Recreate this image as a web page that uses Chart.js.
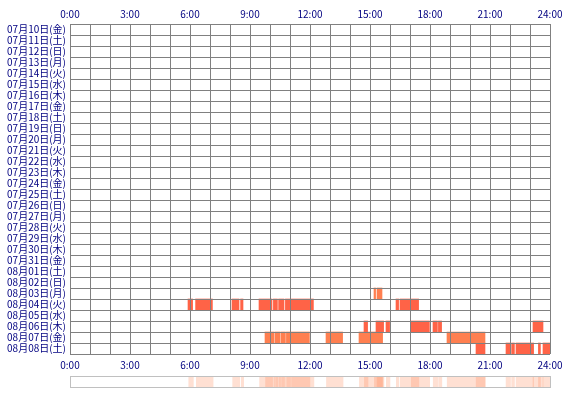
<!DOCTYPE html>
<html>
<head>
<meta charset="utf-8">
<script src="https://cdn.jsdelivr.net/npm/chart.js@4/dist/chart.umd.min.js"></script>
<style>
  body { margin: 0; background: #fff; }
  #main_wrap { position: absolute; left: 0; top: 0; width: 570px; height: 372px; }
  #strip_wrap { position: absolute; left: 70px; top: 376px; width: 479px; height: 10px; border: 1px solid #c0c0c0; }
</style>
</head>
<body>
<div id="main_wrap"><canvas id="ctx_main"></canvas></div>
<div id="strip_wrap"><canvas id="ctx_strip"></canvas></div>
<script>
// row labels, top to bottom
var days = [
    '07月10日(金)', '07月11日(土)', '07月12日(日)', '07月13日(月)', '07月14日(火)',
    '07月15日(水)', '07月16日(木)', '07月17日(金)', '07月18日(土)', '07月19日(日)',
    '07月20日(月)', '07月21日(火)', '07月22日(水)', '07月23日(木)', '07月24日(金)',
    '07月25日(土)', '07月26日(日)', '07月27日(月)', '07月28日(火)', '07月29日(水)',
    '07月30日(木)', '07月31日(金)', '08月01日(土)', '08月02日(日)', '08月03日(月)',
    '08月04日(火)', '08月05日(水)', '08月06日(木)', '08月07日(金)', '08月08日(土)'
];

// active periods per day, in hours [start, end]
var act_0803 = [[15.2, 15.28], [15.35, 15.6]];
var act_0804 = [[5.9, 6.13], [6.28, 7.12], [8.1, 8.45], [8.53, 8.65], [9.45, 10.1],
                [10.17, 10.37], [10.43, 10.7], [10.77, 12.17], [16.3, 16.43], [16.5, 17.43]];
var act_0806 = [[14.7, 14.88], [15.3, 15.68], [15.8, 15.98], [17.05, 17.97],
                [18.15, 18.37], [18.42, 18.58], [23.15, 23.65]];
var act_0807 = [[9.75, 10.2], [10.25, 10.5], [10.55, 10.77], [10.82, 11.0], [11.05, 11.97],
                [12.8, 13.63], [14.45, 15.63], [18.85, 20.75]];
var act_0808 = [[20.3, 20.75], [21.8, 22.02], [22.08, 22.22], [22.3, 23.18],
                [23.42, 23.52], [23.65, 24]];

var hour_ticks = [0, 3, 6, 9, 12, 15, 18, 21, 24];

var tick_font = { family: '"Noto Sans CJK JP", "DejaVu Sans", sans-serif', size: 10 };
var tick_color = '#000080';
var grid_color = '#808080';

function make_row(label, segs, color) {
    return {
        data: segs.map(s => ({ x: s, y: label })),
        backgroundColor: color,
        borderWidth: 0,
        grouped: false,
        categoryPercentage: 1,
        barPercentage: 1
    };
}

function hour_label(v) {
    return hour_ticks.indexOf(v) >= 0 ? v + ':00' : '';
}

var ctx_main = document.getElementById('ctx_main').getContext('2d');
var chart_main = new Chart(ctx_main, {
    type: 'bar',
    data: {
        labels: days,
        datasets: [
            make_row('08月03日(月)', act_0803, '#ff7f50'),
            make_row('08月04日(火)', act_0804, '#ff6347'),
            make_row('08月06日(木)', act_0806, '#ff6347'),
            make_row('08月07日(金)', act_0807, '#ff7f50'),
            make_row('08月08日(土)', act_0808, '#ff6347')
        ]
    },
    options: {
        indexAxis: 'y',
        responsive: true,
        maintainAspectRatio: false,
        animation: false,
        layout: { autoPadding: false, padding: { left: 0, right: 20, top: 0, bottom: 0 } },
        plugins: { legend: { display: false }, tooltip: { enabled: false } },
        scales: {
            x: {
                type: 'linear', position: 'top', min: 0, max: 24,
                grid: { color: grid_color, drawTicks: false, z: 1 },
                border: { color: grid_color, z: 1 },
                ticks: { stepSize: 1, autoSkip: false, maxRotation: 0, padding: 4,
                         color: tick_color, font: tick_font, callback: hour_label },
                afterFit: function (s) { s.height = 24; }
            },
            x2: {
                type: 'linear', position: 'bottom', min: 0, max: 24,
                grid: { display: false, drawTicks: false },
                border: { display: false },
                ticks: { stepSize: 1, autoSkip: false, maxRotation: 0, padding: 5,
                         color: tick_color, font: tick_font, callback: hour_label },
                afterFit: function (s) { s.height = 18; }
            },
            y: {
                type: 'category',
                grid: { color: grid_color, drawTicks: false, z: 1 },
                border: { color: grid_color, z: 1 },
                ticks: { autoSkip: false, padding: 4, color: tick_color, font: tick_font },
                afterFit: function (s) { s.width = 70; }
            }
        }
    }
});

// summary strip: all days overlaid with low alpha
var all_segs = [].concat(act_0803, act_0804, act_0806, act_0807, act_0808);

var ctx_strip = document.getElementById('ctx_strip').getContext('2d');
var chart_strip = new Chart(ctx_strip, {
    type: 'bar',
    data: {
        labels: ['all'],
        datasets: [{
            data: all_segs.map(s => ({ x: s, y: 'all' })),
            backgroundColor: 'rgba(255,130,80,0.25)',
            borderWidth: 0,
            categoryPercentage: 1,
            barPercentage: 1
        }]
    },
    options: {
        indexAxis: 'y',
        responsive: true,
        maintainAspectRatio: false,
        animation: false,
        layout: { autoPadding: false, padding: 0 },
        plugins: { legend: { display: false }, tooltip: { enabled: false } },
        scales: {
            x: { type: 'linear', min: 0, max: 24, display: false },
            y: { type: 'category', display: false }
        }
    }
});
</script>
</body>
</html>
